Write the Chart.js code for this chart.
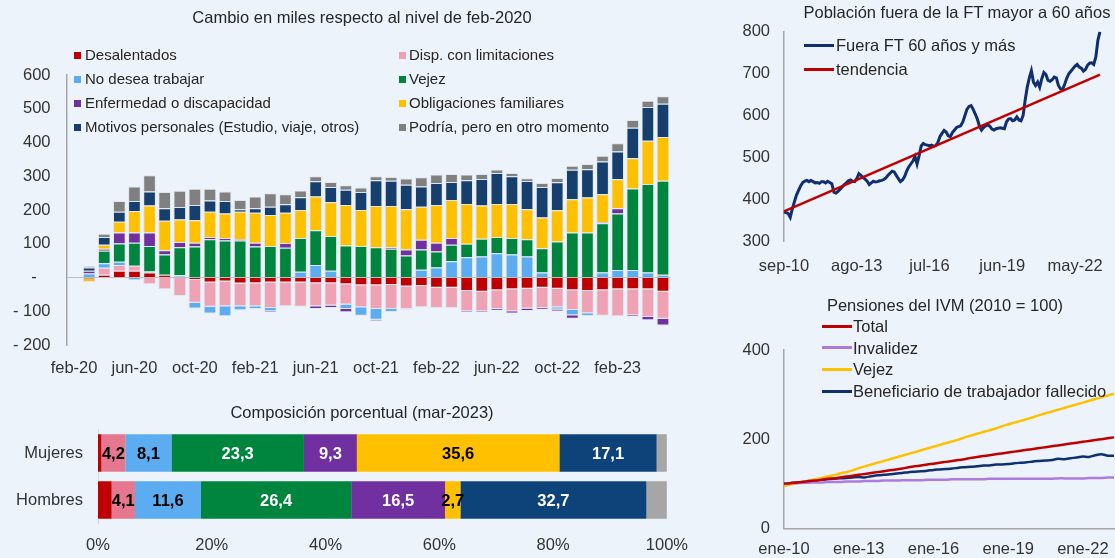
<!DOCTYPE html>
<html>
<head>
<meta charset="utf-8">
<script src="https://cdn.jsdelivr.net/npm/chart.js@4.4.0/dist/chart.umd.min.js"></script>
<style>
  html, body { margin: 0; padding: 0; width: 1115px; height: 558px; overflow: hidden; background: #EDF3FB; }
  body { position: relative; font-family: "Liberation Sans", Arial, sans-serif; color: #262626; }
  .box { position: absolute; }
  .txt { position: absolute; white-space: nowrap; line-height: 18px; }
  .sq { position: absolute; width: 7px; height: 7px; }
  .ln { position: absolute; height: 3px; width: 30px; }
</style>
</head>
<body>
<div class="box" id="b1" style="left:0;top:0;width:690px;height:390px"><canvas id="c1"></canvas></div>
<div class="box" id="b2" style="left:0;top:395px;width:700px;height:163px"><canvas id="c2"></canvas></div>
<div class="box" id="b3" style="left:730px;top:0;width:385px;height:280px"><canvas id="c3"></canvas></div>
<div class="box" id="b4" style="left:730px;top:290px;width:420px;height:268px"><canvas id="c4"></canvas></div>
<script>
// ---------- data ----------
const mes = ['ene','feb','mar','abr','may','jun','jul','ago','sep','oct','nov','dic'];
function monthLabels(year, month, count, step) {
  const out = [];
  for (let k = 0; k < count; k++) {
    const m = month + k * step;
    out.push(mes[m % 12] + '-' + String((year + Math.floor(m / 12)) % 100).padStart(2, '0'));
  }
  return out;
}

// Cambio en miles respecto a feb-2020 (feb-20 ... may-23)
const months = monthLabels(2020, 1, 40, 1);
const seriesNames = ['Desalentados', 'Disp. con limitaciones', 'No desea trabajar', 'Vejez',
  'Enfermedad o discapacidad', 'Obligaciones familiares', 'Motivos personales (Estudio, viaje, otros)',
  'Podría, pero en otro momento'];
const desalentados = [0,-4,8,20,20,15,8,2,-7,-15,-12,-18,-17,-15,-15,-15,-17,-17,-20,-23,
  -23,-22,-27,-25,-30,-30,-40,-42,-38,-35,-33,-30,-33,-38,-40,-38,-35,-35,-35,-42];
const dispLimit = [0,0,21,17,15,-20,-35,-55,-68,-72,-73,-67,-68,-75,-70,-72,-68,-66,-60,-65,
  -70,-71,-66,-63,-60,-60,-60,-58,-55,-65,-59,-60,-55,-58,-66,-75,-80,-77,-82,-80];
const noDesea = [0,12,13,10,-8,3,0,5,-17,-20,-30,-12,-8,-10,0,17,37,20,-13,-25,
  -32,-9,-2,23,30,48,60,62,72,68,62,15,-7,-16,-8,15,22,22,15,8];
const vejez = [0,0,37,54,68,75,60,83,92,113,110,110,92,93,88,100,103,103,95,93,
  90,85,65,60,47,49,40,53,48,49,51,72,107,133,133,146,168,242,262,279];
const enfermedad = [0,8,6,32,30,40,13,15,11,7,7,3,11,-3,14,0,-8,-7,-10,0,
  -4,5,18,29,26,20,-3,-3,-5,-7,-7,-5,-5,-10,0,3,15,-4,-10,-20];
const obligaciones = [0,-9,12,32,64,80,87,67,67,75,73,82,89,92,90,83,100,100,120,107,
  122,122,119,98,112,113,118,98,98,101,89,91,92,99,104,83,86,89,128,129];
const motivos = [0,10,23,30,30,42,37,37,45,33,37,7,13,25,25,38,45,45,45,53,
  76,75,73,60,65,53,70,79,92,82,84,90,83,87,84,97,82,91,100,99];
const podria = [0,3,10,32,43,48,48,48,48,35,28,28,35,40,30,20,15,15,13,14,
  12,11,18,27,25,24,17,15,10,10,8,12,13,12,15,17,25,23,19,22];
const seriesData = [desalentados, dispLimit, noDesea, vejez, enfermedad, obligaciones, motivos, podria];
const seriesColors = ['#C00000', '#EEA2B4', '#5BACF0', '#00853E', '#7030A0', '#FFC000', '#173F6D', '#808080'];

// Composición porcentual (mar-2023)
const compCategories = ['Mujeres', 'Hombres'];
const mujeres = [0.6, 4.2, 8.1, 23.3, 9.3, 35.6, 17.1, 1.8];
const hombres = [2.4, 4.1, 11.6, 26.4, 16.5, 2.7, 32.7, 3.6];
const compColors = ['#C00000', '#E5788F', '#5BACF0', '#00853E', '#7030A0', '#FFC000', '#0D4379', '#A6A6A6'];
const compLabelColors = [null, '#000', '#000', '#fff', '#fff', '#000', '#fff', null];
const pctTicks = [0, 20, 40, 60, 80, 100];

// Población fuera de la FT mayor a 60 años (sep-10 ... may-23)
const ftLabels = monthLabels(2010, 8, 153, 1);
const fuera60 = [
  371,369,367,358,378,395,411,422,433,441,444,446,
  443,446,443,440,441,439,443,443,440,444,441,438,
  418,416,420,425,430,436,440,445,447,444,443,450,
  462,458,453,449,444,436,440,444,442,443,445,446,
  448,452,458,463,468,466,458,450,443,447,455,468,
  478,485,492,503,485,505,528,534,531,530,528,530,
  527,529,536,550,558,565,561,552,550,560,566,572,
  574,576,585,600,615,622,624,615,604,592,575,566,
  572,576,578,575,568,566,569,570,571,570,569,585,
  592,593,588,590,597,590,588,600,637,668,690,707,
  680,672,680,668,688,703,698,684,682,686,692,690,
  672,664,662,675,689,700,706,712,718,722,716,713,
  706,710,720,725,726,722,740,780,800];
const tendencia = ftLabels.map(() => null);
tendencia[0] = 372;
tendencia[152] = 698;

// Pensiones del IVM (2010 = 100), trimestral ene-10 ... abr-23
const ivmLabels = monthLabels(2010, 0, 54, 3);
const total = [100,101,103,104,106,107,109,111,112,114,116,118,
  120,122,124,126,128,130,132,134,137,139,141,143,
  145,147,149,151,153,155,158,160,162,164,166,168,
  170,172,174,176,178,180,182,184,186,188,190,192,
  194,196,198,200,202,204];
const invalidez = [100,101,101,102,102,103,103,104,104,104,105,105,
  105,106,106,106,107,107,107,108,108,108,108,109,
  109,109,109,110,110,110,110,110,110,111,111,111,
  111,111,111,111,111,111,111,111,112,112,112,112,
  112,113,113,113,114,114];
const vejezIvm = [95,98,101,104,107,110,113,116,119,123,126,130,
  135,139,143,147,151,155,159,163,167,171,175,179,
  183,187,191,195,199,204,208,212,216,220,224,229,
  233,237,241,245,249,254,258,262,266,270,274,278,
  282,286,290,294,298,302];
const beneficiario = [100,101,103,104,106,108,109,110,111,112,113,114,
  115,114,117,119,120,121,123,124,126,127,128,129,
  131,132,133,134,136,137,138,139,141,141,143,143,
  144,146,147,148,150,151,152,153,156,155,157,159,
  161,160,164,166,163,163];

// ---------- helpers ----------
Chart.defaults.font.family = '"Liberation Sans", Arial, sans-serif';
Chart.defaults.font.size = 16.5;
Chart.defaults.color = '#333';

function text(str, left, cy, size, opts) {
  const d = document.createElement('div');
  d.className = 'txt';
  d.textContent = str;
  d.style.fontSize = size + 'px';
  d.style.top = (cy - 9) + 'px';
  d.style.left = left + 'px';
  if (opts && opts.center) d.style.transform = 'translateX(-50%)';
  document.body.appendChild(d);
}
function square(color, left, cy) {
  const d = document.createElement('div');
  d.className = 'sq';
  d.style.background = color;
  d.style.left = left + 'px';
  d.style.top = (cy - 3.5) + 'px';
  document.body.appendChild(d);
}
function lineSample(color, left, cy) {
  const d = document.createElement('div');
  d.className = 'ln';
  d.style.background = color;
  d.style.left = left + 'px';
  d.style.top = (cy - 1.5) + 'px';
  document.body.appendChild(d);
}
const noGrid = { display: false, drawTicks: false };

// ---------- chart 1: stacked bars ----------
new Chart(document.getElementById('c1'), {
  type: 'bar',
  data: {
    labels: months,
    datasets: seriesNames.map((n, i) => ({
      label: n,
      data: seriesData[i],
      backgroundColor: seriesColors[i],
      borderColor: 'rgba(222,228,238,0.9)',
      borderWidth: 1,
      barPercentage: 0.84,
      categoryPercentage: 1
    }))
  },
  options: {
    responsive: true, maintainAspectRatio: false, animation: false,
    layout: { padding: { left: 0, right: 19.5, top: 75, bottom: 0 } },
    plugins: { legend: { display: false }, tooltip: { enabled: false } },
    scales: {
      x: {
        stacked: true,
        grid: noGrid,
        border: { display: false },
        afterFit: s => { s.height = 45; },
        ticks: { autoSkip: false, maxRotation: 0, minRotation: 0, padding: 14,
          callback: (v, i) => (i % 4 === 0 ? months[i] : '') }
      },
      y: {
        stacked: true, min: -200, max: 600,
        afterFit: s => { s.width = 66.5; },
        grid: { drawTicks: false, color: c => (c.tick.value === 0 ? '#BFBFBF' : 'rgba(0,0,0,0)') },
        border: { display: true, color: '#A6A6A6', width: 1.5 },
        ticks: { stepSize: 100, padding: 16,
          callback: v => (v === 0 ? '-   ' : v < 0 ? '- ' + Math.abs(v) : String(v)) }
      }
    }
  }
});
text('Cambio en miles respecto al nivel de feb-2020', 362, 17, 16.5, { center: true });
seriesNames.forEach((n, i) => {
  const col = i % 2, row = Math.floor(i / 2);
  const cy = 55 + row * 24.1;
  square(seriesColors[i], col ? 399 : 74, cy);
  text(n, col ? 409 : 85, cy, 15);
});

// ---------- chart 2: composición porcentual ----------
const segLabels = {
  id: 'segLabels',
  afterDatasetsDraw(chart) {
    const ctx = chart.ctx;
    ctx.save();
    ctx.font = 'bold 16.5px "Liberation Sans Narrow", "Liberation Sans", Arial, sans-serif';
    ctx.textAlign = 'center';
    ctx.textBaseline = 'middle';
    chart.data.datasets.forEach((ds, i) => {
      if (!compLabelColors[i]) return;
      chart.getDatasetMeta(i).data.forEach((el, j) => {
        const p = el.getCenterPoint();
        ctx.fillStyle = compLabelColors[i];
        ctx.fillText(ds.data[j].toFixed(1).replace('.', ','), p.x, p.y + 1);
      });
    });
    ctx.restore();
  }
};
new Chart(document.getElementById('c2'), {
  type: 'bar',
  data: {
    labels: compCategories,
    datasets: seriesNames.map((n, i) => ({
      label: n,
      data: [mujeres[i], hombres[i]],
      backgroundColor: compColors[i],
      borderWidth: 0,
      barPercentage: 0.8,
      categoryPercentage: 1
    }))
  },
  options: {
    indexAxis: 'y',
    responsive: true, maintainAspectRatio: false, animation: false,
    layout: { padding: { left: 0, right: 27, top: 34.5, bottom: 0 } },
    plugins: { legend: { display: false }, tooltip: { enabled: false } },
    scales: {
      x: {
        stacked: true, min: 0, max: 100,
        grid: noGrid, border: { display: false },
        afterFit: s => { s.height = 34.5; },
        afterBuildTicks: s => { s.ticks = pctTicks.map(v => ({ value: v })); },
        ticks: { padding: 12, maxRotation: 0, callback: v => v + '%' }
      },
      y: {
        stacked: true,
        grid: noGrid,
        border: { display: true, color: '#D5D9DF', width: 1 },
        afterFit: s => { s.width = 98; },
        ticks: { padding: 15 }
      }
    }
  },
  plugins: [segLabels]
});
text('Composición porcentual (mar-2023)', 362, 412, 16.5, { center: true });

// ---------- chart 3: población fuera de la FT ----------
new Chart(document.getElementById('c3'), {
  type: 'line',
  data: {
    labels: ftLabels,
    datasets: [
      { label: 'Fuera FT 60 años y más', data: fuera60, borderColor: '#102F6E', borderWidth: 3,
        pointRadius: 0, tension: 0, order: 1 },
      { label: 'tendencia', data: tendencia, borderColor: '#C00000', borderWidth: 2.5,
        pointRadius: 0, spanGaps: true, order: 0 }
    ]
  },
  options: {
    responsive: true, maintainAspectRatio: false, animation: false,
    layout: { padding: { left: 0, right: 12, top: 31.7, bottom: 0 } },
    plugins: { legend: { display: false }, tooltip: { enabled: false } },
    scales: {
      x: {
        grid: noGrid, border: { display: false },
        afterFit: s => { s.height = 38.3; },
        ticks: { autoSkip: false, maxRotation: 0, minRotation: 0, padding: 15,
          callback: (v, i) => (i % 35 === 0 ? ftLabels[i] : '') }
      },
      y: {
        min: 300, max: 800,
        grid: noGrid,
        border: { display: true, color: '#A6A6A6', width: 1.5 },
        afterFit: s => { s.width = 54; },
        ticks: { stepSize: 100, padding: 14 }
      }
    }
  }
});
text('Población fuera de la FT mayor a 60 años', 957, 12, 16.5, { center: true });
[['Fuera FT 60 años y más', '#102F6E'], ['tendencia', '#C00000']].forEach((it, k) => {
  lineSample(it[1], 804, 45 + k * 24);
  text(it[0], 836, 45 + k * 24, 16.5);
});

// ---------- chart 4: pensiones del IVM ----------
const ivmSets = [
  ['Total', total, '#C00000'],
  ['Invalidez', invalidez, '#AD7BDD'],
  ['Vejez', vejezIvm, '#FFC000'],
  ['Beneficiario de trabajador fallecido', beneficiario, '#102F6E']
];
new Chart(document.getElementById('c4'), {
  type: 'line',
  data: {
    labels: ivmLabels,
    datasets: ivmSets.map(s => ({ label: s[0], data: s[1], borderColor: s[2], borderWidth: 2.5,
      pointRadius: 0, tension: 0.2 }))
  },
  options: {
    responsive: true, maintainAspectRatio: false, animation: false,
    layout: { padding: { left: 0, right: 36, top: 60, bottom: 0 } },
    plugins: { legend: { display: false }, tooltip: { enabled: false } },
    scales: {
      x: {
        grid: noGrid, border: { display: true, color: '#A6A6A6', width: 1.5 },
        afterFit: s => { s.height = 29.7; },
        ticks: { autoSkip: false, maxRotation: 0, minRotation: 0, padding: 11,
          callback: (v, i) => (i % 12 === 0 ? ivmLabels[i] : '') }
      },
      y: {
        min: 0, max: 400,
        grid: noGrid,
        border: { display: true, color: '#A6A6A6', width: 1.5 },
        afterFit: s => { s.width = 54; },
        ticks: { stepSize: 200, padding: 14 }
      }
    }
  }
});
text('Pensiones del IVM (2010 = 100)', 945, 305, 16.5, { center: true });
ivmSets.forEach((s, k) => {
  const cy = 326 + k * 21.7;
  lineSample(s[2], 822, cy);
  text(s[0], 853, cy, 16.5);
});
</script>
</body>
</html>
